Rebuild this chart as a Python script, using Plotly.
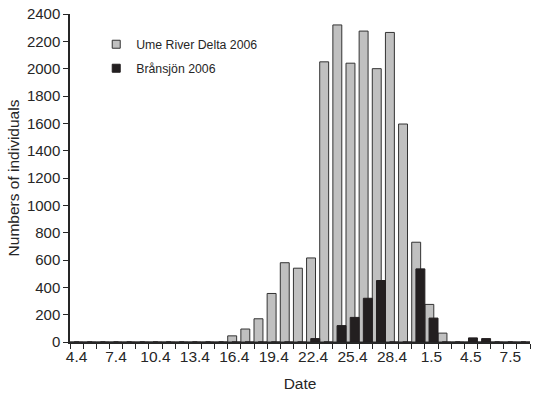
import plotly.graph_objects as go

# Dates (daily, 4 April to 8 May 2006)
dates = ["4.4", "5.4", "6.4", "7.4", "8.4", "9.4", "10.4", "11.4", "12.4", "13.4",
         "14.4", "15.4", "16.4", "17.4", "18.4", "19.4", "20.4", "21.4", "22.4", "23.4",
         "24.4", "25.4", "26.4", "27.4", "28.4", "29.4", "30.4", "1.5", "2.5", "3.5",
         "4.5", "5.5", "6.5", "7.5", "8.5"]

ume = [0, 0, 0, 0, 0, 0, 0, 0, 0, 0,
       0, 0, 45, 95, 170, 355, 580, 540, 615, 2050,
       2320, 2040, 2275, 2000, 2265, 1595, 730, 275, 65, 0,
       0, 0, 0, 0, 0]

bransjon = [0, 0, 0, 0, 0, 0, 0, 0, 0, 0,
            0, 0, 0, 0, 0, 0, 0, 0, 25, 0,
            120, 180, 320, 450, 0, 0, 535, 175, 0, 0,
            30, 25, 0, 0, 0]

tick_labels = ["4.4", "7.4", "10.4", "13.4", "16.4", "19.4", "22.4", "25.4", "28.4", "1.5", "4.5", "7.5"]

ticktext = [d if d in tick_labels else "" for d in dates]

font_family = "Liberation Sans, Arial, sans-serif"
text_color = "#262626"
gray_fill = "#c0c0c0"
gray_line = "#333333"
dark_fill = "#231f20"

fig = go.Figure()
fig.add_trace(go.Bar(
    x=dates, y=ume, name="Ume River Delta 2006", showlegend=False,
    marker=dict(color=gray_fill, line=dict(color=gray_line, width=1)),
    offset=-0.5, width=0.68,
))
fig.add_trace(go.Bar(
    x=dates, y=bransjon, name="Brånsjön 2006", showlegend=False,
    marker=dict(color=dark_fill, line=dict(color=dark_fill, width=1)),
    offset=-0.18, width=0.68,
))
# legend entries (small square keys as in the original)
fig.add_trace(go.Scatter(
    x=[None], y=[None], mode="markers", name="Ume River Delta 2006",
    legendgroup="a",
    marker=dict(symbol="square", size=8, color=gray_fill, line=dict(color=gray_line, width=1)),
))
fig.add_trace(go.Scatter(
    x=[None], y=[None], mode="markers", name="Brånsjön 2006",
    legendgroup="b",
    marker=dict(symbol="square", size=8, color=dark_fill, line=dict(color=dark_fill, width=1)),
))

fig.update_layout(
    width=535, height=401,
    margin=dict(l=70, r=5, t=14, b=59),
    barmode="overlay",
    plot_bgcolor="white", paper_bgcolor="white",
    font=dict(family=font_family, size=15, color=text_color),
    showlegend=True,
    legend=dict(x=0.057, y=0.952, xanchor="left", yanchor="top",
                bgcolor="rgba(0,0,0,0)", font=dict(size=12.3, color=text_color),
                itemwidth=30, tracegroupgap=5),
)
fig.update_xaxes(
    type="category", categoryorder="array", categoryarray=dates,
    tickmode="array", tickvals=dates, ticktext=ticktext,
    tickson="boundaries", ticks="outside", ticklen=5, tickcolor="#262626",
    showline=True, linecolor="#262626", linewidth=1.5,
    showgrid=False, range=[-0.5, len(dates) - 0.5],
    tickangle=0, tickfont=dict(size=15.5),
    title=dict(text="Date", font=dict(size=15.5), standoff=14),
)
fig.update_yaxes(
    range=[0, 2400], dtick=200, ticks="outside", ticklen=5, tickcolor="#262626",
    showline=True, linecolor="#262626", linewidth=1.5,
    showgrid=False, zeroline=False, tickfont=dict(size=15),
    title=dict(text="Numbers of individuals", font=dict(size=15.5), standoff=3),
)

fig.write_html("out.html")
